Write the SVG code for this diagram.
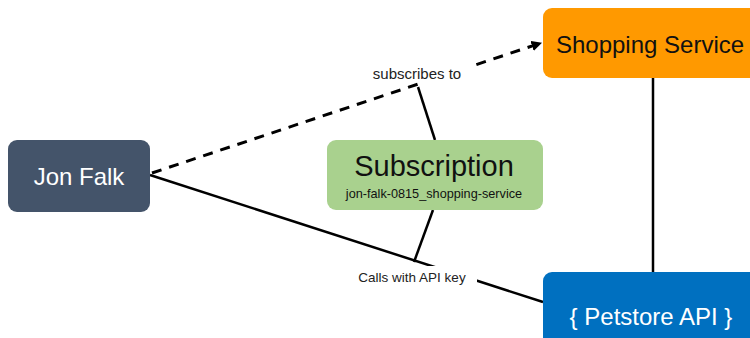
<svg xmlns="http://www.w3.org/2000/svg" width="750" height="338" viewBox="0 0 750 338">
<defs>
<style>
.lbl{font-family:"Liberation Sans","Open Sans",Arial,sans-serif;}
.conn{stroke:#000;stroke-width:2.5;fill:none;}
.dash{stroke-width:3;stroke-dasharray:10,8;}
</style>
<marker id="arr" viewBox="0 0 10 10" refX="9" refY="5" markerWidth="3.5" markerHeight="3.5" orient="auto" markerUnits="strokeWidth">
<path d="M0,0 L10,5 L0,10 z" fill="#000"/>
</marker>
</defs>
<rect width="750" height="338" fill="#fff"/>
<g id="connectors">
<line class="conn dash" x1="152" y1="173" x2="541" y2="43" marker-end="url(#arr)"/>
<line class="conn" x1="418" y1="87" x2="435" y2="140"/>
<line class="conn" x1="150" y1="175" x2="543" y2="302"/>
<line class="conn" x1="433" y1="210" x2="414" y2="262"/>
<line class="conn" x1="653" y1="78" x2="653" y2="272"/>
<rect x="418" y="60" width="52" height="26" fill="#fff"/>
<rect x="417" y="266" width="60" height="24" fill="#fff"/>
<text class="lbl" x="417" y="79" font-size="15" text-anchor="middle" fill="#222">subscribes to</text>
<text class="lbl" x="412" y="282" font-size="13.5" text-anchor="middle" fill="#222">Calls with API key</text>
</g>
<g id="jon-falk">
<rect x="8" y="140" width="142" height="72" rx="9" fill="#44546a"/>
<text class="lbl" x="79" y="185" font-size="24" text-anchor="middle" fill="#fff">Jon Falk</text>
</g>
<g id="subscription">
<rect x="327" y="140" width="216" height="70" rx="9" fill="#a9d18e"/>
<text class="lbl" x="434" y="176" font-size="29" text-anchor="middle" fill="#111">Subscription</text>
<text class="lbl" x="434" y="198" font-size="12.7" text-anchor="middle" fill="#111">jon-falk-0815_shopping-service</text>
</g>
<g id="shopping-service">
<rect x="543" y="8" width="216" height="70" rx="9" fill="#ff9900"/>
<text class="lbl" x="650" y="53" font-size="24" text-anchor="middle" fill="#111">Shopping Service</text>
</g>
<g id="petstore-api">
<rect x="543" y="272" width="216" height="80" rx="9" fill="#0070c0"/>
<text class="lbl" x="651" y="325" font-size="24" text-anchor="middle" fill="#fff">{ Petstore API }</text>
</g>
</svg>
